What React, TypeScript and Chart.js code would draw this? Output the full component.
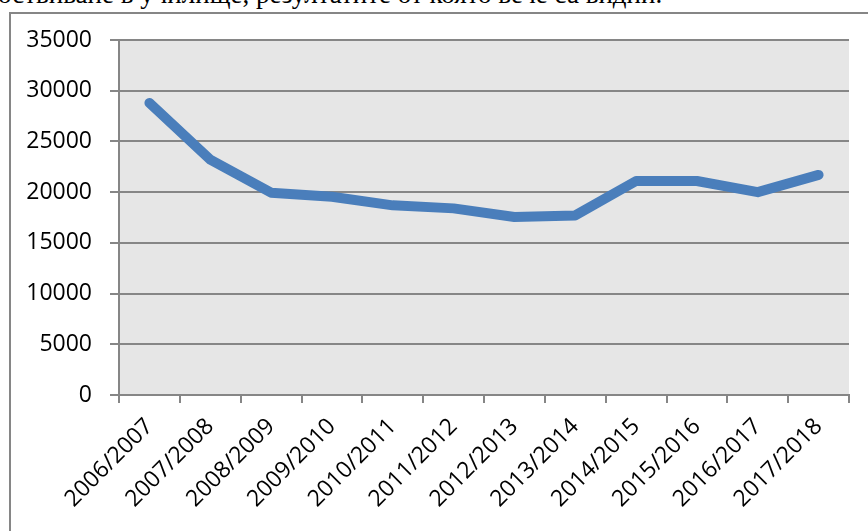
import React, { useEffect, useRef } from "react";
import { Chart, registerables } from "chart.js";

Chart.register(...registerables);

const categories = [
  "2006/2007", "2007/2008", "2008/2009", "2009/2010", "2010/2011", "2011/2012",
  "2012/2013", "2013/2014", "2014/2015", "2015/2016", "2016/2017", "2017/2018",
];
const values = [28800, 23200, 19950, 19550, 18700, 18400, 17550, 17700, 21100, 21100, 20000, 21700];
const yTicks = [0, 5000, 10000, 15000, 20000, 25000, 30000, 35000];
const captionText = "оствиване в училище, резултатите от която вече са видни.";

const GRID = "#868686";
const FONT = "'Open Sans', sans-serif";

const plotBg = {
  id: "plotBg",
  beforeDraw(chart: any) {
    const { ctx, chartArea } = chart;
    ctx.save();
    ctx.fillStyle = "#E6E6E6";
    ctx.fillRect(chartArea.left, chartArea.top, chartArea.right - chartArea.left, chartArea.bottom - chartArea.top);
    ctx.restore();
  },
};

export default function App() {
  const ref = useRef<HTMLCanvasElement | null>(null);

  useEffect(() => {
    if (!ref.current) return;
    const chart = new Chart(ref.current, {
      type: "line",
      data: {
        labels: categories,
        datasets: [
          {
            data: values,
            borderColor: "#4A7EBB",
            backgroundColor: "#4A7EBB",
            borderWidth: 10,
            borderCapStyle: "round",
            borderJoinStyle: "round",
            pointRadius: 0,
            tension: 0,
            fill: false,
          },
        ],
      },
      options: {
        responsive: false,
        animation: false,
        layout: { padding: { top: 40, right: 19, left: 0, bottom: 0 } },
        plugins: { legend: { display: false }, tooltip: { enabled: false } },
        scales: {
          x: {
            type: "category",
            offset: true,
            afterFit: (s: any) => { s.height = 136; },
            grid: { display: true, drawOnChartArea: false, drawTicks: true, tickLength: 8, offset: true, color: GRID, lineWidth: 2 },
            border: { display: true, color: GRID, width: 2 },
            ticks: {
              autoSkip: false,
              minRotation: 45,
              maxRotation: 45,
              padding: 10,
              color: "#000",
              font: { family: FONT, size: 23 },
            },
          },
          y: {
            min: yTicks[0],
            max: yTicks[yTicks.length - 1],
            afterFit: (s: any) => { s.width = 119; },
            afterBuildTicks: (s: any) => { s.ticks = yTicks.map((v) => ({ value: v })); },
            grid: { color: GRID, lineWidth: 2, drawTicks: true, tickLength: 9 },
            border: { display: true, color: GRID, width: 2 },
            ticks: {
              padding: 18,
              color: "#000",
              font: { family: FONT, size: 23 },
              callback: (v: any) => String(v),
            },
          },
        },
      },
      plugins: [plotBg],
    });
    return () => chart.destroy();
  }, []);

  return (
    <div style={{ position: "fixed", left: 0, top: 0, width: 868, height: 531, background: "#fff", overflow: "hidden" }}>
      <div
        style={{
          position: "absolute",
          left: -2,
          top: -19,
          whiteSpace: "nowrap",
          fontFamily: "'Liberation Serif', 'Times New Roman', serif",
          fontSize: 27,
          lineHeight: "27px",
          color: "#000",
        }}
      >
        {captionText}
      </div>
      <div
        style={{
          position: "absolute",
          left: 9,
          top: 12,
          width: 900,
          height: 600,
          borderLeft: "2px solid " + GRID,
          borderTop: "2px solid " + GRID,
        }}
      />
      <canvas ref={ref} width={868} height={531} style={{ position: "absolute", left: 0, top: 0 }} />
    </div>
  );
}
